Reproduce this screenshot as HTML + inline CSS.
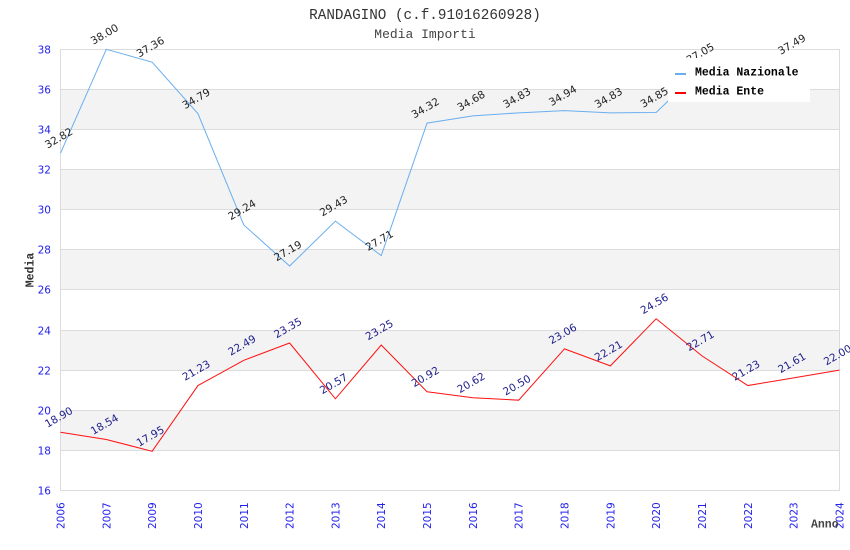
<!DOCTYPE html>
<html><head><meta charset="utf-8"><style>
html,body{margin:0;padding:0;background:#fff;}
svg{display:block;}
.t{font-family:"DejaVu Sans","Liberation Sans",sans-serif;font-size:10.5px;}
.m{font-family:"Liberation Mono","DejaVu Sans Mono",monospace;}
</style></head><body>
<svg width="850" height="550" viewBox="0 0 850 550" xmlns="http://www.w3.org/2000/svg">
<rect width="850" height="550" fill="#fff"/>
<text x="425" y="19" class="m" font-size="14.3" fill="#333" text-anchor="middle">RANDAGINO (c.f.91016260928)</text>
<text x="425" y="38" class="m" font-size="13" fill="#444" text-anchor="middle">Media Importi</text>
<!-- bands -->
<g fill="#f3f3f3">
<rect x="60.5" y="89.5" width="779.5" height="40"/>
<rect x="60.5" y="169.5" width="779.5" height="40"/>
<rect x="60.5" y="249.5" width="779.5" height="40"/>
<rect x="60.5" y="330.5" width="779.5" height="40"/>
<rect x="60.5" y="410.5" width="779.5" height="40"/>
</g>
<g stroke="#dcdcdc" stroke-width="1">
<line x1="60.5" y1="49.5" x2="840" y2="49.5"/>
<line x1="60.5" y1="89.5" x2="840" y2="89.5"/>
<line x1="60.5" y1="129.5" x2="840" y2="129.5"/>
<line x1="60.5" y1="169.5" x2="840" y2="169.5"/>
<line x1="60.5" y1="209.5" x2="840" y2="209.5"/>
<line x1="60.5" y1="249.5" x2="840" y2="249.5"/>
<line x1="60.5" y1="289.5" x2="840" y2="289.5"/>
<line x1="60.5" y1="330.5" x2="840" y2="330.5"/>
<line x1="60.5" y1="370.5" x2="840" y2="370.5"/>
<line x1="60.5" y1="410.5" x2="840" y2="410.5"/>
<line x1="60.5" y1="450.5" x2="840" y2="450.5"/>
<line x1="60.5" y1="490.5" x2="840" y2="490.5"/>
<line x1="60.5" y1="49.5" x2="60.5" y2="490.5"/>
<line x1="839.5" y1="49.5" x2="839.5" y2="490.5"/>
</g>
<!-- y ticks -->
<g class="t" fill="#2222ee" text-anchor="end">
<text x="51" y="53.5">38</text>
<text x="51" y="93.5">36</text>
<text x="51" y="133.5">34</text>
<text x="51" y="173.5">32</text>
<text x="51" y="213.5">30</text>
<text x="51" y="253.5">28</text>
<text x="51" y="293.5">26</text>
<text x="51" y="334.5">24</text>
<text x="51" y="374.5">22</text>
<text x="51" y="414.5">20</text>
<text x="51" y="454.5">18</text>
<text x="51" y="494.5">16</text>
</g>
<!-- x ticks -->
<g class="t" fill="#2222ee">
<text transform="translate(64.5,529) rotate(-90)">2006</text>
<text transform="translate(110.3,529) rotate(-90)">2007</text>
<text transform="translate(156.1,529) rotate(-90)">2009</text>
<text transform="translate(202,529) rotate(-90)">2010</text>
<text transform="translate(247.8,529) rotate(-90)">2011</text>
<text transform="translate(293.6,529) rotate(-90)">2012</text>
<text transform="translate(339.4,529) rotate(-90)">2013</text>
<text transform="translate(385.2,529) rotate(-90)">2014</text>
<text transform="translate(431.1,529) rotate(-90)">2015</text>
<text transform="translate(476.9,529) rotate(-90)">2016</text>
<text transform="translate(522.7,529) rotate(-90)">2017</text>
<text transform="translate(568.5,529) rotate(-90)">2018</text>
<text transform="translate(614.3,529) rotate(-90)">2019</text>
<text transform="translate(660.2,529) rotate(-90)">2020</text>
<text transform="translate(706,529) rotate(-90)">2021</text>
<text transform="translate(751.8,529) rotate(-90)">2022</text>
<text transform="translate(797.6,529) rotate(-90)">2023</text>
<text transform="translate(843.4,529) rotate(-90)">2024</text>
</g>
<text transform="translate(33.5,270) rotate(-90)" class="m" font-size="11.5" font-weight="bold" fill="#333" text-anchor="middle">Media</text>
<text x="811" y="527.5" class="m" font-size="11.5" font-weight="bold" fill="#444">Anno</text>
<!-- series -->
<polyline fill="none" stroke="#6aaef0" stroke-width="1" points="60.5,153.16 106.32,49.3 152.14,62.13 197.96,113.66 243.78,224.94 289.6,266.04 335.42,221.13 381.24,255.61 427.06,123.08 472.88,115.87 518.7,112.86 564.52,110.65 610.34,112.86 656.16,112.46 701.98,68.35 747.8,86.19 793.62,59.53"/>
<polyline fill="none" stroke="#ff1010" stroke-width="1" points="60.5,432.26 106.32,439.47 152.14,451.3 197.96,385.54 243.78,360.28 289.6,343.03 335.42,398.77 381.24,345.04 427.06,391.75 472.88,397.77 518.7,400.18 564.52,348.85 610.34,365.89 656.16,318.77 701.98,355.86 747.8,385.54 793.62,377.92 839.44,370.1"/>
<g class="t" fill="#222" text-anchor="middle">
<text transform="translate(60.5,141.2) rotate(-30)">32.82</text>
<text transform="translate(106.3,37.3) rotate(-30)">38.00</text>
<text transform="translate(152.1,50.1) rotate(-30)">37.36</text>
<text transform="translate(198,101.7) rotate(-30)">34.79</text>
<text transform="translate(243.8,212.9) rotate(-30)">29.24</text>
<text transform="translate(289.6,254) rotate(-30)">27.19</text>
<text transform="translate(335.4,209.1) rotate(-30)">29.43</text>
<text transform="translate(381.2,243.6) rotate(-30)">27.71</text>
<text transform="translate(427.1,111.1) rotate(-30)">34.32</text>
<text transform="translate(472.9,103.9) rotate(-30)">34.68</text>
<text transform="translate(518.7,100.9) rotate(-30)">34.83</text>
<text transform="translate(564.5,98.7) rotate(-30)">34.94</text>
<text transform="translate(610.3,100.9) rotate(-30)">34.83</text>
<text transform="translate(656.2,100.5) rotate(-30)">34.85</text>
<text transform="translate(702,56.4) rotate(-30)">37.05</text>
<text transform="translate(747.8,74.2) rotate(-30)">36.16</text>
<text transform="translate(793.6,47.5) rotate(-30)">37.49</text>
</g>
<g class="t" fill="#1c1c8a" text-anchor="middle">
<text transform="translate(60.5,420.3) rotate(-30)">18.90</text>
<text transform="translate(106.3,427.5) rotate(-30)">18.54</text>
<text transform="translate(152.1,439.3) rotate(-30)">17.95</text>
<text transform="translate(198,373.5) rotate(-30)">21.23</text>
<text transform="translate(243.8,348.3) rotate(-30)">22.49</text>
<text transform="translate(289.6,331) rotate(-30)">23.35</text>
<text transform="translate(335.4,386.8) rotate(-30)">20.57</text>
<text transform="translate(381.2,333) rotate(-30)">23.25</text>
<text transform="translate(427.1,379.8) rotate(-30)">20.92</text>
<text transform="translate(472.9,385.8) rotate(-30)">20.62</text>
<text transform="translate(518.7,388.2) rotate(-30)">20.50</text>
<text transform="translate(564.5,336.9) rotate(-30)">23.06</text>
<text transform="translate(610.3,353.9) rotate(-30)">22.21</text>
<text transform="translate(656.2,306.8) rotate(-30)">24.56</text>
<text transform="translate(702,343.9) rotate(-30)">22.71</text>
<text transform="translate(747.8,373.5) rotate(-30)">21.23</text>
<text transform="translate(793.6,365.9) rotate(-30)">21.61</text>
<text transform="translate(839.4,358.1) rotate(-30)">22.00</text>
</g>
<!-- legend -->
<rect x="668" y="58" width="142" height="44" fill="#fff"/>
<line x1="675" y1="74" x2="686" y2="74" stroke="#6aaef0" stroke-width="2"/>
<line x1="675" y1="93" x2="686" y2="93" stroke="#ff0000" stroke-width="2"/>
<text x="695" y="75.5" class="m" font-size="11.5" font-weight="bold" fill="#000">Media Nazionale</text>
<text x="695" y="94.5" class="m" font-size="11.5" font-weight="bold" fill="#000">Media Ente</text>
</svg>
</body></html>
